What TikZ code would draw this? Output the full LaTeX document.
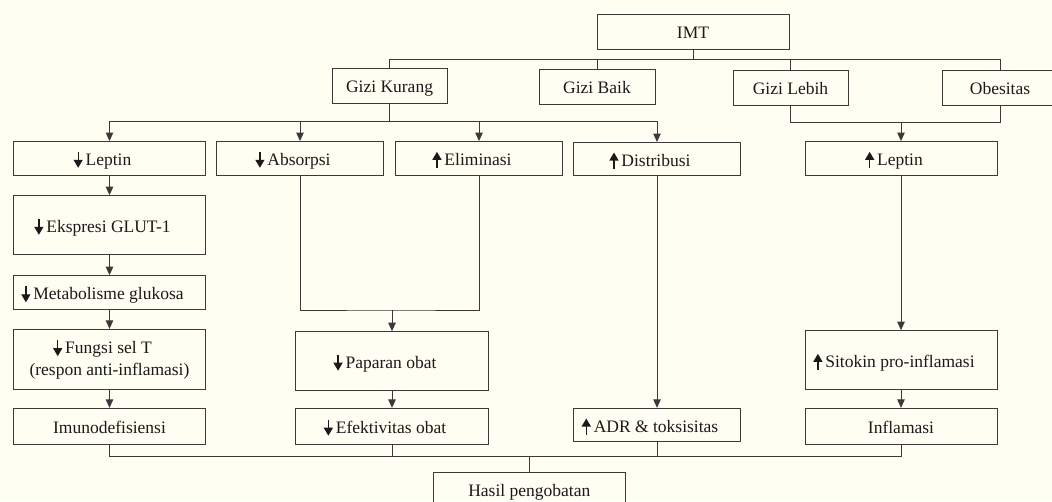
\documentclass[tikz,border=0pt]{standalone}
\usepackage{fontspec}
\setmainfont{Liberation Serif}
\usetikzlibrary{arrows.meta}
\definecolor{bg}{HTML}{FFFEF2}
\definecolor{ln}{HTML}{3A3A3A}
\definecolor{tx}{HTML}{1A1A1A}
\newcommand{\arrdn}{\tikz[baseline=0pt]\draw[tx,line width=1.3pt,-{Triangle[width=9pt,length=8pt]}] (0pt,13.5pt) -- (0pt,-2.5pt);\hspace{3pt}}
\newcommand{\arrup}{\tikz[baseline=0pt]\draw[tx,line width=1.3pt,-{Triangle[width=9pt,length=8pt]}] (0pt,-2.5pt) -- (0pt,13.5pt);\hspace{3pt}}
\newcommand{\padr}{\hspace*{14pt}}
\begin{document}
\begin{tikzpicture}[x=1pt,y=-1pt,
  basebox/.style={draw=ln,line width=1pt,inner sep=0pt,text=tx,align=center,
    font=\fontsize{17.5}{21.5}\selectfont},
  box/.style={basebox,text height=14pt,text depth=0pt},
  conn/.style={draw=ln,line width=1pt},
  arr/.style={conn,-{Triangle[width=7.5pt,length=8.5pt]}}]
\fill[bg] (0,0) rectangle (1052,501);
\useasboundingbox (0,0) rectangle (1052,501);
\clip (0,0) rectangle (1052,501);

% top level
\node[box,minimum width=192pt,minimum height=35pt] (imt) at (693,31.5) {IMT};
\node[box,minimum width=115pt,minimum height=35pt] (gk) at (389.5,85.5) {Gizi Kurang};
\node[box,minimum width=116pt,minimum height=35pt] (gb) at (597,86.5) {Gizi Baik};
\node[box,minimum width=115pt,minimum height=35pt] (gl) at (790.5,87.5) {Gizi Lebih};
\node[box,minimum width=115pt,minimum height=35pt] (ob) at (1000,87.5) {Obesitas};

% second row
\node[box,minimum width=192pt,minimum height=33.5pt] (l1) at (109.5,158.3) {\arrdn Leptin\padr};
\node[box,minimum width=167pt,minimum height=33.5pt] (ab) at (300,158.3) {\arrdn Absorpsi\padr};
\node[box,minimum width=167pt,minimum height=33.5pt] (el) at (479,158.3) {\arrup Eliminasi\padr};
\node[box,minimum width=167pt,minimum height=33pt] (di) at (657,159) {\arrup Distribusi\padr};
\node[box,minimum width=192pt,minimum height=33.5pt] (rl) at (901,158.3) {\arrup Leptin\padr};

% left column
\node[box,minimum width=192pt,minimum height=59.3pt] (glut) at (109.5,225.3) {\arrdn Ekspresi GLUT-1\padr};
\node[box,minimum width=192pt,minimum height=34.3pt] (met) at (109.5,292.8) {\arrdn Metabolisme glukosa\padr};
\node[basebox,minimum width=192pt,minimum height=59.7pt] (fs) at (109.5,359.2) {\arrdn Fungsi sel T\padr\\(respon anti-inflamasi)};
\node[box,minimum width=192pt,minimum height=35.7pt] (im) at (109.5,426.2) {Imunodefisiensi};

% middle
\node[box,minimum width=192.6pt,minimum height=59pt] (pap) at (392,361.2) {\arrdn Paparan obat\padr};
\node[box,minimum width=192.6pt,minimum height=35.7pt] (ef) at (392,426.2) {\arrdn Efektivitas obat\padr};
\node[box,minimum width=167pt,minimum height=33.4pt] (adr) at (657,425) {\arrup ADR \& toksisitas\padr};

% right column
\node[box,minimum width=192pt,minimum height=59.3pt] (sit) at (901,360.3) {\arrup Sitokin pro-inflamasi\padr};
\node[box,minimum width=192pt,minimum height=35.7pt] (inf) at (901,426.2) {Inflamasi};

% bottom
\node[box,minimum width=192.4pt,minimum height=35pt] (has) at (529.3,489.8) {Hasil pengobatan};

% junctions
\coordinate (jt) at (693,59.3);
\coordinate (jk) at (389.5,121.7);
\coordinate (jl) at (901,122.7);
\coordinate (ja) at (392,310);
\coordinate (jb) at (529.3,456.7);

% IMT tree
\draw[conn] (imt.south) -- (jt);
\draw[conn] (gk.north) |- (jt) -| (ob.north);
\draw[conn] (gb.north) -- (gb.north |- jt);
\draw[conn] (gl.north) -- (gl.north |- jt);

% Gizi Kurang branches
\draw[conn] (gk.south) -- (jk);
\draw[arr] (jk) -| (l1.north);
\draw[arr] (jk) -| (ab.north);
\draw[arr] (jk) -| (el.north);
\draw[arr] (jk) -| (di.north);

% Gizi Lebih / Obesitas
\draw[conn] (gl.south) |- (jl) -| (ob.south);
\draw[arr] (jl) -- (rl.north);

% left chain
\draw[arr] (l1.south) -- (glut.north);
\draw[arr] (glut.south) -- (met.north);
\draw[arr] (met.south) -- (fs.north);
\draw[arr] (fs.south) -- (im.north);

% absorption / elimination
\draw[conn] (ab.south) |- (ja) -| (el.south);
\draw[arr] (ja) -- (pap.north);
\draw[arr] (pap.south) -- (ef.north);

% distribution
\draw[arr] (di.south) -- (adr.north);

% right chain
\draw[arr] (rl.south) -- (sit.north);
\draw[arr] (sit.south) -- (inf.north);

% outcome
\draw[conn] (im.south) |- (jb) -| (inf.south);
\draw[conn] (ef.south) -- (ef.south |- jb);
\draw[conn] (adr.south) -- (adr.south |- jb);
\draw[conn] (jb) -- (has.north);
\end{tikzpicture}
\end{document}
